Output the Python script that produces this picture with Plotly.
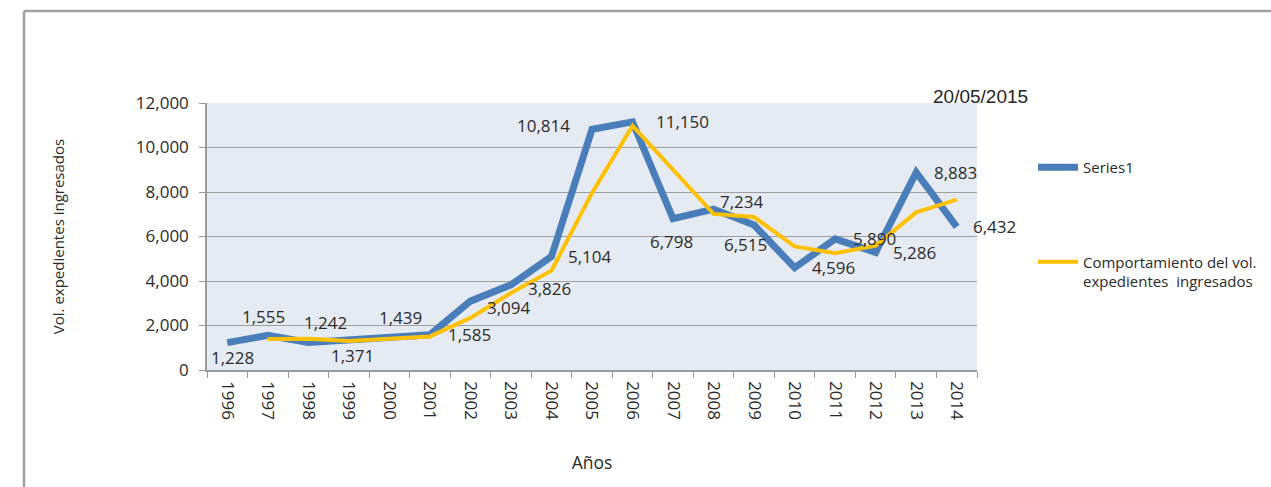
import plotly.graph_objects as go

years = [str(y) for y in range(1996, 2015)]
volumen = [1228, 1555, 1242, 1371, 1439, 1585, 3094, 3826, 5104, 10814,
           11150, 6798, 7234, 6515, 4596, 5890, 5286, 8883, 6432]
# Trend line values (starts in 1997)
trend_years = years[1:]
tendencia = [1390, 1400, 1305, 1405, 1510, 2340, 3460, 4465, 7960, 10980,
             8975, 7015, 6875, 5555, 5245, 5590, 7085, 7660]

series_name = "Series1"
trend_name = "Comportamiento del vol.<br>expedientes\u00a0 ingresados"

# label pixel offsets (dx right, dy down) relative to each point
label_offsets = [(5, 15), (-4, -19), (17, -20), (4, 16), (11, -20), (40, 0),
                 (39, 6), (39, 4), (39, 0), (-49, -4), (50, 0), (-2, 23),
                 (28, -8), (-9, 19), (39, 0), (39, 0), (39, 0), (39, 0), (38, 0)]

FONT = "Open Sans"
TXT = "#2b2b2b"

fig = go.Figure()
fig.add_trace(go.Scatter(x=years, y=volumen, mode="lines", name=series_name,
                         legendgroup="a",
                         line=dict(color="#4A7EBB", width=7)))
fig.add_trace(go.Scatter(x=trend_years, y=tendencia, mode="lines", name=trend_name,
                         legendgroup="b",
                         line=dict(color="#FFC000", width=4)))

annotations = []
for i, (v, (dx, dy)) in enumerate(zip(volumen, label_offsets)):
    annotations.append(dict(x=i, y=v, xref="x", yref="y", text=f"{v:,}",
                            showarrow=False, xshift=dx, yshift=-dy,
                            xanchor="center", yanchor="middle",
                            font=dict(family=FONT, size=17, color=TXT)))

L, R, T, B = 207, 977, 103, 370
W, H = 1271, 487
def px(xp):
    return (xp - L) / (R - L)
def py(yp):
    return (B - yp) / (B - T)

annotations.append(dict(x=px(980), y=py(97), xref="paper", yref="paper",
                        xanchor="center", yanchor="middle",
                        text="20/05/2015", showarrow=False,
                        font=dict(family="Liberation Sans, Arial", size=19, color="#262626")))

shapes = [
    dict(type="line", xref="paper", yref="paper", x0=px(24), x1=px(1275), y0=py(11), y1=py(11),
         line=dict(color="#A0A0A0", width=2.5)),
    dict(type="line", xref="paper", yref="paper", x0=px(24), x1=px(24), y0=py(11), y1=py(490),
         line=dict(color="#A0A0A0", width=2.5)),
]

fig.update_layout(
    width=W, height=H,
    margin=dict(l=L, r=W - R, t=T, b=H - B),
    paper_bgcolor="white",
    plot_bgcolor="#E6EBF3",
    font=dict(family=FONT, color=TXT),
    showlegend=True,
    legend=dict(xref="container", yref="container", x=1033 / W, y=1 - 151 / H,
                xanchor="left", yanchor="top", tracegroupgap=72, valign="top",
                itemwidth=40,
                font=dict(family=FONT, size=15, color=TXT), bgcolor="rgba(0,0,0,0)"),
    annotations=annotations,
    shapes=shapes,
)
fig.update_xaxes(type="category", range=[-0.5, 18.5], tickangle=90,
                 ticks="outside", ticklen=6, tickcolor="#9a9a9a", tickson="boundaries",
                 showline=True, linecolor="#9a9a9a", linewidth=1.5, showgrid=False,
                 tickfont=dict(family=FONT, size=17, color=TXT), ticklabelstandoff=6,
                 title=dict(text="Años", font=dict(family=FONT, size=17.5, color=TXT), standoff=37),
                 automargin=True)
fig.update_yaxes(range=[0, 12000], dtick=2000, tickformat=",",
                 ticks="outside", ticklen=6, tickcolor="#9a9a9a",
                 showline=True, linecolor="#9a9a9a", linewidth=1.5,
                 showgrid=True, gridcolor="#9F9F9F", gridwidth=1.2, zeroline=False,
                 tickfont=dict(family=FONT, size=17, color=TXT), ticklabelstandoff=7,
                 title=dict(text="Vol. expedientes ingresados",
                            font=dict(family=FONT, size=15, color=TXT), standoff=68),
                 automargin=True)

fig.write_html("out.html", config={"displayModeBar": False},
               post_script="document.body.style.margin='0';")
